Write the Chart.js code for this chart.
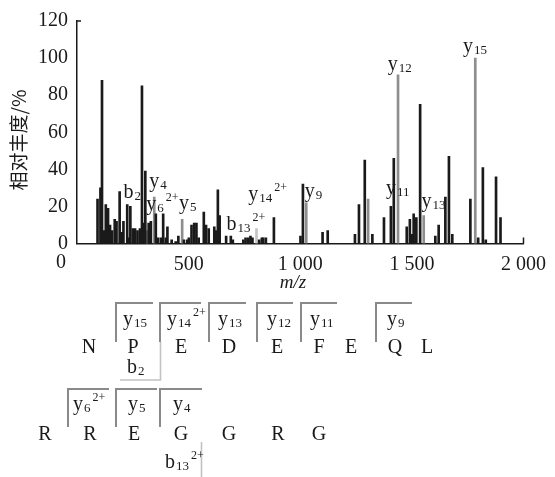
<!DOCTYPE html>
<html><head><meta charset="utf-8">
<script src="https://cdn.jsdelivr.net/npm/chart.js@4"></script>
<style>html,body{margin:0;padding:0;background:#fff;}#wrap{width:555px;height:477px;position:relative}</style>
</head><body><div id="wrap"><canvas id="c" width="555" height="477"></canvas></div>
<script>
// ---- data ----
const blackMz = [92,105,112,121,129,139,148,157,169,177,191,200,208,225,234,239,250,260,271,282,291,298,306,321,331,353,363,376,386,398,405,424,442,454,479,494,501,513,525,535,545,568,578,590,615,622,631,639,668,689,698,745,755,767,777,786,816,828,834,846,882,1001,1012,1100,1123,1245,1263,1289,1323,1375,1406,1419,1477,1491,1500,1508,1520,1537,1605,1620,1650,1666,1681,1762,1797,1818,1831,1877,1897];
const blackInt = [24,30,88,7,21,19,10,7,13,12,28,6,12,21,3,20,8,8,7,8,85,11,39,11,12,16,3,3,16,3,9,2,1,4,2,2,3,10,11,11,3,17,10,8,9,7,29,15,4,4,2,2,3,3,4,3,2,3,3,3,14,4,32,6,7,5,21,45,5,14,20,46,9,13,5,16,14,75,4,10,25,47,5,24,3,41,2,36,14];
const yIonMz = [313,346,471,1027,1304,1438,1553,1784];
const yIonInt = [7,25,13,22,24,91,15,100];
const bIonMz = [804];
const bIonInt = [8];
const xTickValues = [0,500,1000,1500,2000];
const yTickValues = [0,20,40,60,80,100,120];
const yTitle = '相对丰度/%';
const xTitle = 'm/z';
// peak annotations: ion letter, subscript, superscript, anchor (m/z, intensity) of text
const peakIon = ['b','y','y','y','b','y','y','y','y','y','y'];
const peakSub = ['2','4','6','5','13','14','9','11','13','12','15'];
const peakSup = ['','','2+','','2+','2+','','','','',''];
const peakMz  = [208,324,310,457,670,767,1020,1384,1543,1392,1729];
const peakAt  = [24.3,30.7,17.9,18.4,7.2,23.2,25.3,26.9,19.5,93.6,103.2];
// peptide sequence
const seqRow1 = ['N','P','E','D','E','F','E','Q','L'];
const seqRow2 = ['R','R','E','G','G','R','G'];

// ---- layout / style (not data) ----
const SERIF = '"Liberation Serif","Times New Roman",serif';
const INK = '#1a1a1a';
const seqLayout = {
  row1X:[89,133,181,229,277,319,351,395,427], row1Base:353,
  row2X:[45,90,134,181,229,278,319], row2Base:440,
  yBrackets:[
    {vx:116,x2:153,top:303,bot:342,lx:123,base:325,sub:'15',sup:''},
    {vx:160,x2:201,top:303,bot:342,lx:167,base:325,sub:'14',sup:'2+'},
    {vx:209,x2:246,top:303,bot:342,lx:218,base:325,sub:'13',sup:''},
    {vx:257,x2:293,top:303,bot:342,lx:267,base:325,sub:'12',sup:''},
    {vx:301,x2:337,top:303,bot:342,lx:310,base:325,sub:'11',sup:''},
    {vx:376,x2:412,top:303,bot:342,lx:387,base:325,sub:'9',sup:''},
    {vx:68,x2:109,top:389,bot:427,lx:73,base:410,sub:'6',sup:'2+'},
    {vx:116,x2:157,top:389,bot:427,lx:128,base:410,sub:'5',sup:''},
    {vx:160,x2:202,top:389,bot:427,lx:173,base:410,sub:'4',sup:''}
  ],
  bBrackets:[
    {vx:160.5,top:342,bot:380,hx:120,lx:127,base:373,sub:'2',sup:''},
    {vx:201.5,top:442,bot:478,hx:null,lx:165,base:468,sub:'13',sup:'2+'}
  ]
};

function fmt(v){ return String(v).replace(/\B(?=(\d{3})+(?!\d))/g,' '); }

function drawIon(ctx,x,base,main,sub,sup){
  ctx.textAlign='left'; ctx.textBaseline='alphabetic';
  ctx.font='20px '+SERIF; ctx.fillText(main,x,base);
  const w=ctx.measureText(main).width;
  ctx.font='13px '+SERIF; ctx.fillText(sub,x+w+1,base+2);
  const w2=ctx.measureText(sub).width;
  if(sup){ ctx.font='12px '+SERIF; ctx.fillText(sup,x+w+1+w2+2,base-9); }
}

const overlay = {
  id:'overlay',
  afterDraw(chart){
    const ctx=chart.ctx, xs=chart.scales.x, ys=chart.scales.y;
    ctx.save();
    ctx.fillStyle=INK; ctx.strokeStyle=INK;
    // axis end caps
    ctx.lineWidth=1.5;
    ctx.beginPath();
    ctx.moveTo(xs.left, ys.getPixelForValue(120)); ctx.lineTo(xs.left+4, ys.getPixelForValue(120));
    ctx.moveTo(xs.getPixelForValue(2000), ys.bottom); ctx.lineTo(xs.getPixelForValue(2000), ys.bottom-6);
    ctx.stroke();
    // origin label
    ctx.font='20px '+SERIF; ctx.textAlign='center'; ctx.textBaseline='top';
    ctx.fillText('0', xs.getPixelForValue(0)-16, xs.top+9);
    // axis titles
    ctx.save();
    ctx.translate(19,140); ctx.rotate(-Math.PI/2);
    ctx.font='19px "Noto Sans CJK SC"'; ctx.textAlign='center'; ctx.textBaseline='middle';
    ctx.fillText(yTitle,0,0);
    ctx.restore();
    ctx.font='italic 19px '+SERIF; ctx.textAlign='center'; ctx.textBaseline='alphabetic';
    ctx.fillText(xTitle,293,288);
    // peak labels
    for(let i=0;i<peakIon.length;i++){
      drawIon(ctx,xs.getPixelForValue(peakMz[i]),ys.getPixelForValue(peakAt[i]),peakIon[i],peakSub[i],peakSup[i]);
    }
    // sequence letters
    ctx.font='20px '+SERIF; ctx.textAlign='center'; ctx.textBaseline='alphabetic';
    seqRow1.forEach((a,i)=>ctx.fillText(a,seqLayout.row1X[i],seqLayout.row1Base));
    seqRow2.forEach((a,i)=>ctx.fillText(a,seqLayout.row2X[i],seqLayout.row2Base));
    // y brackets
    ctx.strokeStyle='#8a8a8a'; ctx.lineWidth=2; ctx.lineCap='butt';
    seqLayout.yBrackets.forEach(b=>{
      ctx.beginPath(); ctx.moveTo(b.vx,b.bot); ctx.lineTo(b.vx,b.top); ctx.lineTo(b.x2,b.top); ctx.stroke();
      drawIon(ctx,b.lx,b.base,'y',b.sub,b.sup);
    });
    ctx.strokeStyle='#c2c2c2'; ctx.lineWidth=1.6;
    seqLayout.bBrackets.forEach(b=>{
      ctx.beginPath(); ctx.moveTo(b.vx,b.top); ctx.lineTo(b.vx,b.bot);
      if(b.hx!==null) ctx.lineTo(b.hx,b.bot);
      ctx.stroke();
      drawIon(ctx,b.lx,b.base,'b',b.sub,b.sup);
    });
    ctx.restore();
  }
};

const toPts=(xs,ys)=>xs.map((m,i)=>({x:m,y:ys[i]}));
new Chart(document.getElementById('c').getContext('2d'),{
  type:'bar',
  data:{datasets:[
    {label:'其他离子',data:toPts(blackMz,blackInt),backgroundColor:INK,barThickness:2,grouped:false},
    {label:'y离子',data:toPts(yIonMz,yIonInt),backgroundColor:'#8e8e8e',barThickness:2,grouped:false},
    {label:'b离子',data:toPts(bIonMz,bIonInt),backgroundColor:'#c4c4c4',barThickness:2,grouped:false}
  ]},
  options:{
    responsive:false, animation:false, events:[],
    layout:{padding:{left:0,right:27,top:18.7,bottom:203.5}},
    plugins:{legend:{display:false},tooltip:{enabled:false}},
    scales:{
      x:{type:'linear',min:0,max:2000,offset:false,
        grid:{display:false,drawTicks:false},
        border:{display:true,color:INK,width:1.5},
        afterBuildTicks:s=>{s.ticks=xTickValues.map(v=>({value:v}));},
        ticks:{autoSkip:false,maxRotation:0,padding:9,color:INK,font:{family:SERIF,size:20},
          callback:v=>v===0?'':fmt(v)},
        afterFit:s=>{s.height=30;}},
      y:{min:0,max:120,
        grid:{display:false,drawTicks:false},
        border:{display:true,color:INK,width:1.5},
        afterBuildTicks:s=>{s.ticks=yTickValues.map(v=>({value:v}));},
        ticks:{padding:9,color:INK,font:{family:SERIF,size:20}},
        afterFit:s=>{s.width=77;}}
    }
  },
  plugins:[overlay]
});
</script></body></html>
